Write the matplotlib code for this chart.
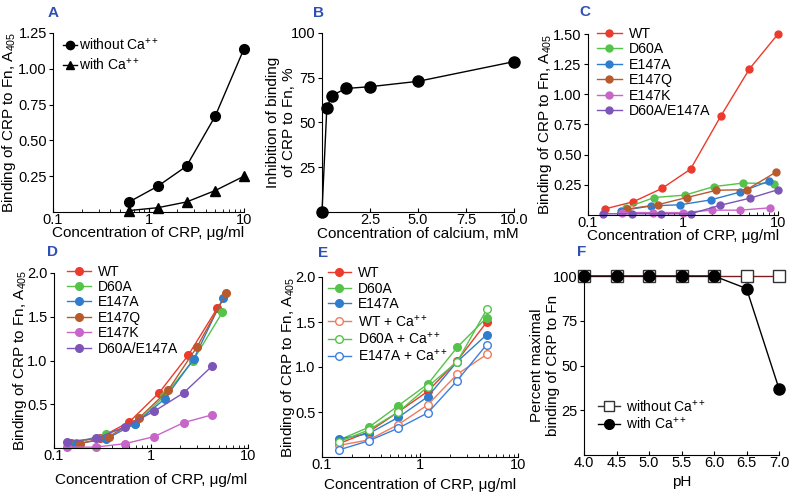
import matplotlib
matplotlib.use("Agg")
import matplotlib.pyplot as plt
from matplotlib.ticker import FixedLocator, LogLocator, NullFormatter
from matplotlib.lines import Line2D

plt.rcParams['font.family'] = ['Liberation Sans', 'DejaVu Sans']
plt.rcParams['mathtext.fontset'] = 'custom'
plt.rcParams['mathtext.rm'] = 'Liberation Sans'
plt.rcParams['mathtext.it'] = 'Liberation Sans:italic'
plt.rcParams['mathtext.default'] = 'regular'
plt.rcParams['font.size'] = 11

# ---------------- data ----------------
A_conc = [0.625, 1.25, 2.5, 5, 10]
A_without = [0.07, 0.18, 0.32, 0.67, 1.14]
A_with = [0.01, 0.03, 0.07, 0.15, 0.25]

B_calcium = [0, 0.25, 0.5, 1.25, 2.5, 5, 10]
B_inhibition = [0, 58, 65, 69, 70, 73, 84]

C_WT_x = [0.15, 0.3, 0.6, 1.2, 2.5, 5, 10]
C_WT_y = [0.05, 0.11, 0.22, 0.38, 0.82, 1.21, 1.50]
C_D60A_x = [0.25, 0.5, 1.05, 2.1, 4.3, 9.0]
C_D60A_y = [0.06, 0.145, 0.165, 0.235, 0.265, 0.26]
C_E147A_x = [0.22, 0.46, 0.94, 1.95, 4.0, 8.0]
C_E147A_y = [0.035, 0.075, 0.085, 0.125, 0.19, 0.28]
C_E147Q_x = [0.26, 0.54, 1.1, 2.25, 4.7, 9.5]
C_E147Q_y = [0.05, 0.085, 0.145, 0.205, 0.21, 0.355]
C_E147K_x = [0.23, 0.48, 1.0, 2.0, 4.0, 8.3]
C_E147K_y = [0.02, 0.02, 0.02, 0.04, 0.04, 0.06]
C_DA_x = [0.145, 0.29, 0.59, 1.2, 2.45, 5.1, 10]
C_DA_y = [0.01, 0.01, 0.01, 0.01, 0.08, 0.14, 0.21]

D_WT_x = [0.15, 0.3, 0.6, 1.21, 2.42, 4.84]
D_WT_y = [0.06, 0.12, 0.30, 0.63, 1.06, 1.60]
D_D60A_x = [0.17, 0.34, 0.68, 1.36, 2.72, 5.43]
D_D60A_y = [0.06, 0.16, 0.27, 0.59, 1.00, 1.55]
D_E147A_x = [0.17, 0.34, 0.69, 1.38, 2.77, 5.5]
D_E147A_y = [0.05, 0.10, 0.28, 0.56, 1.02, 1.71]
D_E147Q_x = [0.186, 0.37, 0.75, 1.5, 3.0, 6.0]
D_E147Q_y = [0.05, 0.13, 0.34, 0.66, 1.16, 1.77]
D_E147K_x = [0.135, 0.27, 0.54, 1.08, 2.17, 4.3]
D_E147K_y = [0.01, 0.01, 0.05, 0.13, 0.29, 0.38]
D_DA_x = [0.135, 0.27, 0.54, 1.08, 2.17, 4.3]
D_DA_y = [0.07, 0.11, 0.24, 0.42, 0.63, 0.94]

E_conc = [0.15, 0.3, 0.6, 1.2, 2.4, 4.8]
E_WT = [0.15, 0.28, 0.50, 0.73, 1.07, 1.50]
E_D60A = [0.19, 0.33, 0.57, 0.81, 1.22, 1.55]
E_E147A = [0.20, 0.26, 0.44, 0.67, 1.06, 1.36]
E_WT_Ca = [0.13, 0.19, 0.36, 0.58, 0.92, 1.14]
E_D60A_Ca = [0.17, 0.30, 0.50, 0.78, 1.06, 1.64]
E_E147A_Ca = [0.08, 0.18, 0.32, 0.49, 0.85, 1.25]

F_pH = [4.0, 4.5, 5.0, 5.5, 6.0, 6.5, 7.0]
F_without = [100, 100, 100, 100, 100, 100, 100]
F_with = [100, 100, 100, 100, 100, 93, 37]

mutant_labels = ['WT', 'D60A', 'E147A', 'E147Q', 'E147K', 'D60A/E147A']
E_labels = ['WT', 'D60A', 'E147A', 'WT + Ca$^{++}$', 'D60A + Ca$^{++}$', 'E147A + Ca$^{++}$']

# ---------------- styles ----------------
RED = '#ec3a2c'
GREEN = '#55c24a'
BLUE = '#2f7dcc'
BROWN = '#b85a2c'
MAGENTA = '#c865c8'
PURPLE = '#7d55b8'
ORANGE = '#f27a5a'
LBLUE = '#3d7fe0'
PANEL_COL = '#2f4fb5'

W, H = 800, 500
fig = plt.figure(figsize=(8, 5), dpi=100)


def make_ax(l, t, r, b):
    ax = fig.add_axes([l / W, 1 - b / H, (r - l) / W, (b - t) / H])
    ax._px = (l, t, r, b)
    ax.spines['top'].set_visible(False)
    ax.spines['right'].set_visible(False)
    ax.tick_params(axis='y', direction='out', length=3, labelsize=10.5, pad=1.5)
    ax.tick_params(axis='x', direction='in', length=3, labelsize=10.5, pad=1)
    ax.tick_params(axis='x', which='minor', direction='in', length=2)
    return ax


def labels(ax, xl, yl, xl_y, yl_x):
    """Place axis labels with centre at given figure pixel positions."""
    l, t, r, b = ax._px
    ax.set_xlabel(xl)
    ax.set_ylabel(yl, linespacing=1.1)
    ax.xaxis.set_label_coords(0.5, (b - xl_y) / (b - t))
    ax.xaxis.label.set_verticalalignment('center')
    ax.yaxis.set_label_coords((yl_x - l) / (r - l), 0.5)
    ax.yaxis.label.set_verticalalignment('center')


def logx(ax):
    ax.set_xscale('log')
    ax.set_xlim(0.1, 10)
    ax.xaxis.set_major_locator(FixedLocator([0.1, 1, 10]))
    ax.set_xticklabels(['0.1', '1', '10'])
    ax.xaxis.set_minor_locator(LogLocator(base=10, subs=range(2, 10)))
    ax.xaxis.set_minor_formatter(NullFormatter())


CONC = 'Concentration of CRP, μg/ml'
BIND = 'Binding of CRP to Fn, A$_{405}$'
LS = 0.1

# ---- Panel A ----
axA = make_ax(53, 33, 244, 212)
logx(axA)
axA.plot(A_conc, A_without, '-o', color='black', ms=7, lw=1, label='without Ca$^{++}$', clip_on=False)
axA.plot(A_conc, A_with, '-^', color='black', ms=7, lw=1, label='with Ca$^{++}$', clip_on=False)
axA.set_ylim(0, 1.25)
axA.set_yticks([0.25, 0.5, 0.75, 1.0, 1.25])
axA.set_yticklabels(['0.25', '0.50', '0.75', '1.00', '1.25'])
labels(axA, CONC, BIND, 233, 9.5)
axA.legend(loc='upper left', frameon=False, handlelength=1.0, handletextpad=0.15,
           borderaxespad=0.0, labelspacing=0.3, fontsize=10, markerscale=0.85,
           bbox_to_anchor=(0.023, 1.01))

# ---- Panel B ----
axB = make_ax(322, 33, 514, 212)
axB.plot(B_calcium, B_inhibition, '-o', color='black', ms=8, lw=1, clip_on=False)
axB.set_xlim(0, 10)
axB.set_ylim(0, 100)
axB.set_xticks([2.5, 5.0, 7.5, 10.0])
axB.set_xticklabels(['2.5', '5.0', '7.5', '10.0'])
axB.set_yticks([25, 50, 75, 100])
labels(axB, 'Concentration of calcium, mM', 'Inhibition of binding\nof CRP to Fn, %', 234, 281)

# ---- Panel C ----
axC = make_ax(588, 34, 778, 215)
logx(axC)
C_series = [(C_WT_x, C_WT_y, RED), (C_D60A_x, C_D60A_y, GREEN), (C_E147A_x, C_E147A_y, BLUE),
            (C_E147Q_x, C_E147Q_y, BROWN), (C_E147K_x, C_E147K_y, MAGENTA), (C_DA_x, C_DA_y, PURPLE)]
for (xs, ys, c), lab in zip(C_series, mutant_labels):
    axC.plot(xs, ys, '-o', color=c, ms=5, lw=1, label=lab, clip_on=False)
axC.set_ylim(0, 1.5)
axC.set_yticks([0.25, 0.5, 0.75, 1.0, 1.25, 1.5])
axC.set_yticklabels(['0.25', '0.50', '0.75', '1.00', '1.25', '1.50'])
labels(axC, CONC, BIND, 236, 545)
axC.legend(loc='upper left', frameon=False, handlelength=1.8, handletextpad=0.5,
           borderaxespad=0.0, labelspacing=LS, fontsize=10.2, bbox_to_anchor=(0.015, 1.07))

# ---- Panel D ----
axD = make_ax(54, 273, 248, 448)
logx(axD)
D_series = [(D_WT_x, D_WT_y, RED), (D_D60A_x, D_D60A_y, GREEN), (D_E147A_x, D_E147A_y, BLUE),
            (D_E147Q_x, D_E147Q_y, BROWN), (D_E147K_x, D_E147K_y, MAGENTA), (D_DA_x, D_DA_y, PURPLE)]
for (xs, ys, c), lab in zip(D_series, mutant_labels):
    axD.plot(xs, ys, '-o', color=c, ms=5.5, lw=1, label=lab, clip_on=False)
axD.set_ylim(0, 2.0)
axD.set_yticks([0.5, 1.0, 1.5, 2.0])
labels(axD, CONC, BIND, 480, 20)
axD.legend(loc='upper left', frameon=False, handlelength=1.7, handletextpad=0.5,
           borderaxespad=0.0, labelspacing=LS, fontsize=10, bbox_to_anchor=(0.04, 1.08))

# ---- Panel E ----
axE = make_ax(322, 277, 518, 457)
logx(axE)
E_filled = [(E_WT, RED), (E_D60A, GREEN), (E_E147A, BLUE)]
E_open = [(E_WT_Ca, ORANGE), (E_D60A_Ca, GREEN), (E_E147A_Ca, LBLUE)]
h1 = []
for (ys, c), lab in zip(E_filled, E_labels[:3]):
    ln, = axE.plot(E_conc, ys, '-o', color=c, ms=5.5, lw=1, label=lab, clip_on=False)
    h1.append(ln)
h2 = []
for (ys, c), lab in zip(E_open, E_labels[3:]):
    ln, = axE.plot(E_conc, ys, '-o', color=c, mfc='white', ms=5.5, lw=1, label=lab, clip_on=False)
    h2.append(ln)
axE.set_ylim(0, 2.0)
axE.set_yticks([0.5, 1.0, 1.5, 2.0])
labels(axE, CONC, BIND, 485, 288)
legE1 = axE.legend(handles=h1, loc='upper left', frameon=False, handlelength=1.7, handletextpad=0.5,
                   borderaxespad=0.0, labelspacing=LS, fontsize=10, bbox_to_anchor=(0.0, 1.09))
axE.add_artist(legE1)
axE.legend(handles=h2, loc='upper left', frameon=False, handlelength=1.7, handletextpad=0.5,
           borderaxespad=0.0, labelspacing=LS, fontsize=10, bbox_to_anchor=(0.0, 0.83))

# ---- Panel F ----
axF = make_ax(584, 276, 779, 455)
axF.plot(F_pH, F_without, '-s', color='#7a2020', mec='#333333', mfc='white', ms=8, lw=1,
         clip_on=False, label='without Ca$^{++}$')
axF.plot(F_pH, F_with, '-o', color='black', ms=8, lw=1, clip_on=False, label='with Ca$^{++}$')
axF.set_xlim(4.0, 7.0)
axF.set_ylim(0, 100)
axF.set_xticks(F_pH)
axF.set_xticklabels(['4.0', '4.5', '5.0', '5.5', '6.0', '6.5', '7.0'])
axF.set_yticks([25, 50, 75, 100])
labels(axF, 'pH', 'Percent maximal\nbinding of CRP to Fn', 482, 545)
axF.legend(handles=[Line2D([], [], color='#333333', marker='s', mfc='white', ms=7, lw=1),
                    Line2D([], [], color='black', marker='o', ms=7, lw=1)],
           labels=['without Ca$^{++}$', 'with Ca$^{++}$'],
           loc='lower left', frameon=False, handlelength=1.6, handletextpad=0.4,
           borderaxespad=0.0, labelspacing=LS, fontsize=10, bbox_to_anchor=(0.043, 0.10))

# ---- Panel letters ----
for txt, (px, py) in zip(['A', 'B', 'C', 'D', 'E', 'F'],
                         [(53, 13), (318, 13), (585, 12), (53, 252), (323, 253), (582, 252)]):
    fig.text(px / W, 1 - py / H, txt, color=PANEL_COL, fontsize=11, fontweight='bold',
             ha='center', va='center')

fig.savefig('out.png', dpi=100)
